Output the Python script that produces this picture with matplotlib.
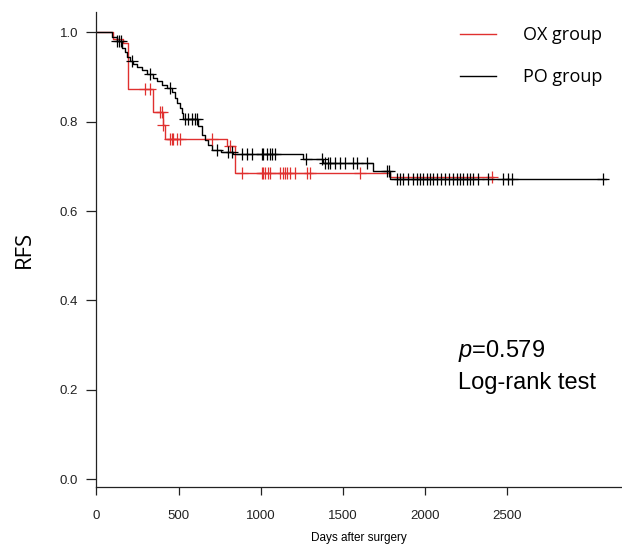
import numpy as np
import matplotlib
matplotlib.use("Agg")
import matplotlib.pyplot as plt

plt.rcParams['font.family'] = ['Liberation Sans', 'DejaVu Sans']
plt.rcParams['mathtext.fontset'] = 'custom'
plt.rcParams['mathtext.it'] = 'Liberation Sans:italic'
plt.rcParams['mathtext.rm'] = 'Liberation Sans'

# OX group (red) survival steps
ox_time = [0, 102, 163, 194, 346, 403, 417, 795, 843, 1790, 2415]
ox_surv = [1.0, 0.985, 0.975, 0.874, 0.822, 0.792, 0.762, 0.745, 0.685, 0.677, 0.677]
ox_censor = [295, 326, 387, 397, 405, 448, 458, 468, 488, 508, 702, 813, 884,
             1006, 1016, 1026, 1046, 1057, 1118, 1138, 1148, 1158, 1178, 1209,
             1280, 1300, 1605, 2407]

# PO group (black) survival steps
po_time = [0, 92, 123, 153, 174, 184, 204, 224, 245, 275, 305, 346, 366, 397,
           427, 458, 478, 492, 508, 519, 529, 620, 640, 661, 681, 701, 760, 833,
           1260, 1381, 1685, 1787, 3100]
po_surv = [1.0, 0.99, 0.98, 0.965, 0.955, 0.945, 0.935, 0.93, 0.922, 0.915,
           0.907, 0.897, 0.89, 0.882, 0.875, 0.866, 0.852, 0.841, 0.83, 0.819,
           0.805, 0.79, 0.77, 0.759, 0.748, 0.737, 0.733, 0.727, 0.716, 0.707,
           0.69, 0.671, 0.671]
po_censor = [128, 138, 148, 214, 326, 448, 539, 559, 580, 600, 610, 732, 803,
             823, 884, 915, 945, 1006, 1016, 1036, 1057, 1067, 1087, 1276, 1371,
             1392, 1412, 1422, 1453, 1483, 1514, 1564, 1585, 1646, 1770, 1780,
             1828, 1848, 1869, 1899, 1929, 1950, 1970, 1990, 2011, 2031, 2051,
             2072, 2097, 2122, 2148, 2173, 2194, 2214, 2234, 2255, 2275, 2295,
             2325, 2386, 2477, 2508, 2529, 3087]

x_ticks = [0, 500, 1000, 1500, 2000, 2500]
y_ticks = [0.0, 0.2, 0.4, 0.6, 0.8, 1.0]

RED = '#e0302f'


def level_at(times, surv, t):
    idx = np.searchsorted(times, t, side='right') - 1
    return np.asarray(surv)[idx]


fig = plt.figure(figsize=(6.22, 5.52), dpi=100)
ax = fig.add_axes([0.155, 0.118, 0.845, 0.860])

ax.step(ox_time, ox_surv, where='post', color=RED, lw=1.0, label='OX group')
ax.step(po_time, po_surv, where='post', color='black', lw=1.0, label='PO group')
ax.plot(ox_censor, level_at(ox_time, ox_surv, ox_censor), '+', color=RED,
        ms=8, mew=0.9)
ax.plot(po_censor, level_at(po_time, po_surv, po_censor), '+', color='black',
        ms=8, mew=0.9)

ax.set_xlim(0, 3200)
ax.set_ylim(-0.017, 1.045)
ax.set_xticks(x_ticks)
ax.set_yticks(y_ticks)
ax.set_yticklabels([f'{v:.1f}' for v in y_ticks])
ax.tick_params(axis='x', length=6, width=0.9, labelsize=9.5, pad=11,
               colors='#222222')
ax.tick_params(axis='y', length=7, width=0.9, labelsize=9.5, pad=6,
               colors='#222222')
for side in ['top', 'right']:
    ax.spines[side].set_visible(False)
for side in ['left', 'bottom']:
    ax.spines[side].set_linewidth(0.9)
    ax.spines[side].set_color('#222222')

ax.set_xlabel('Days after surgery', fontsize=8.5, labelpad=7)
ax.set_ylabel('RFS', fontsize=16, family='Open Sans', labelpad=18)

ax.text(2202, 0.274, r'$p$=0.579', fontsize=17, va='baseline', ha='left')
ax.text(2202, 0.201, 'Log-rank test', fontsize=17, va='baseline', ha='left')

leg = ax.legend(loc='upper left', bbox_to_anchor=(0.66, 1.005), frameon=False,
                handlelength=2.0, handletextpad=1.5, labelspacing=1.35,
                prop={'family': 'Open Sans', 'size': 13})

fig.savefig('out.png', dpi=100)
